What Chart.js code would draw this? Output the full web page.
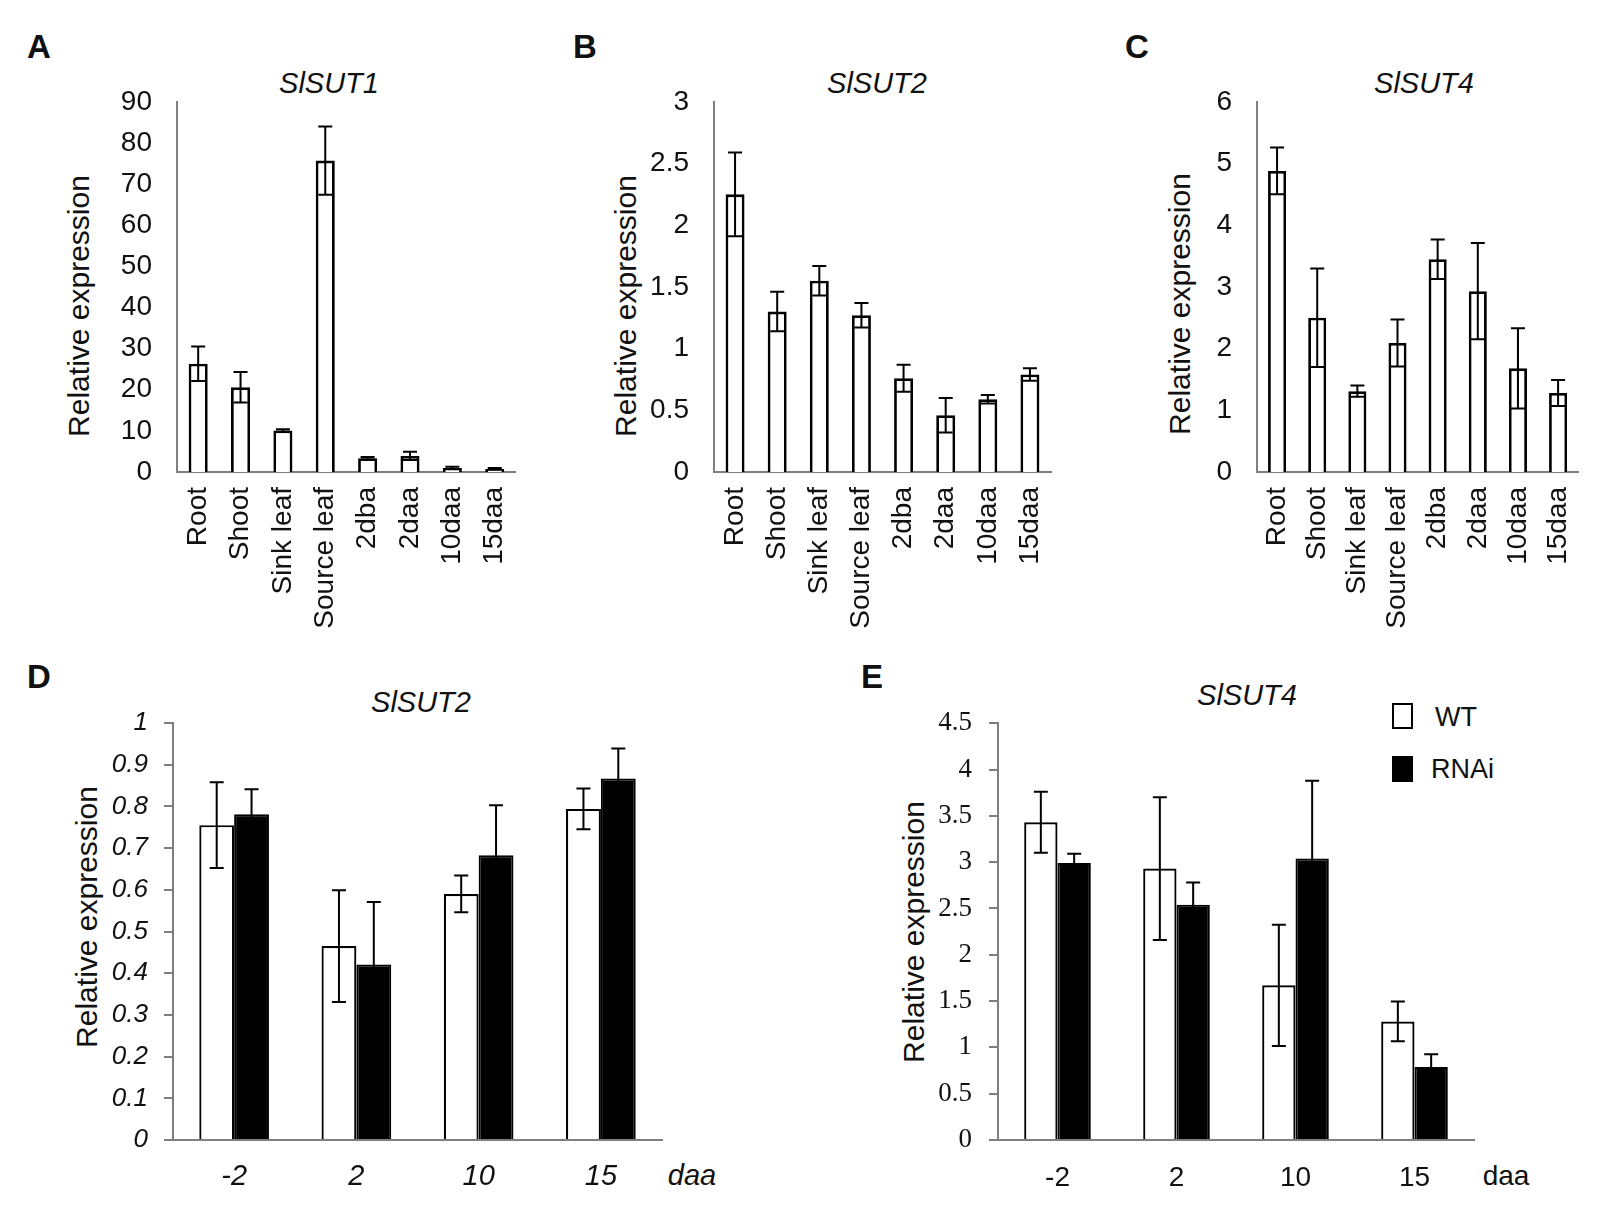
<!DOCTYPE html>
<html>
<head>
<meta charset="utf-8">
<script src="https://cdn.jsdelivr.net/npm/chart.js@4.4.1/dist/chart.umd.min.js"></script>
<style>
  body { margin: 0; background: #fff; width: 1608px; height: 1208px; position: relative; overflow: hidden;
         font-family: "Liberation Sans", Arial, sans-serif; color: #111; }
  canvas { position: absolute; }
  .t { position: absolute; white-space: nowrap; transform: translate(-50%, -50%); line-height: 1; }
  .letter { font-weight: bold; font-size: 33px; }
  .title { font-style: italic; font-size: 29px; }
  .ytitle { font-size: 30px; transform: translate(-50%, -50%) rotate(-90deg); }
  .daa { font-size: 29px; }
  .box { position: absolute; width: 17px; height: 22px; border: 2px solid #000; box-sizing: content-box; }
  .leg { position: absolute; font-size: 27px; transform: translateY(-50%); white-space: nowrap; line-height: 1; }
</style>
</head>
<body>

<div class="t letter" style="left:39px;top:46px">A</div>
<div class="t letter" style="left:585px;top:46px">B</div>
<div class="t letter" style="left:1137px;top:46px">C</div>
<div class="t letter" style="left:39px;top:676px">D</div>
<div class="t letter" style="left:872px;top:676px">E</div>

<div class="t title" style="left:329px;top:83px">SlSUT1</div>
<div class="t title" style="left:877px;top:83px">SlSUT2</div>
<div class="t title" style="left:1424px;top:83px">SlSUT4</div>
<div class="t title" style="left:421px;top:702px">SlSUT2</div>
<div class="t title" style="left:1247px;top:695px">SlSUT4</div>

<div class="t ytitle" style="left:79px;top:306px">Relative expression</div>
<div class="t ytitle" style="left:626px;top:306px">Relative expression</div>
<div class="t ytitle" style="left:1180px;top:304px">Relative expression</div>
<div class="t ytitle" style="left:87px;top:917px">Relative expression</div>
<div class="t ytitle" style="left:914px;top:932px">Relative expression</div>

<div class="t daa" style="left:692px;top:1175px;font-style:italic">daa</div>
<div class="t daa" style="left:1506px;top:1176px;font-size:28px">daa</div>

<div class="box" style="left:1392px;top:703px;background:#fff"></div>
<div class="box" style="left:1392px;top:756px;background:#000"></div>
<div class="leg" style="left:1435px;top:717px">WT</div>
<div class="leg" style="left:1431px;top:769px">RNAi</div>

<script>
// tissue panels A-C
const tissues = ['Root', 'Shoot', 'Sink leaf', 'Source leaf', '2dba', '2daa', '10daa', '15daa'];
const sut1Mean = [26.3, 20.6, 10.1, 75.7, 3.35, 3.9, 0.95, 0.75];
const sut1Err  = [4.2, 3.7, 0.3, 8.3, 0.3, 1.0, 0.3, 0.2];
const sut2Mean = [2.25, 1.30, 1.55, 1.27, 0.76, 0.46, 0.59, 0.79];
const sut2Err  = [0.34, 0.16, 0.12, 0.10, 0.11, 0.14, 0.035, 0.05];
const sut4Mean = [4.88, 2.50, 1.31, 2.09, 3.45, 2.93, 1.68, 1.28];
const sut4Err  = [0.38, 0.80, 0.09, 0.38, 0.32, 0.78, 0.65, 0.21];

// fruit time course panels D-E
const days = ['-2', '2', '10', '15'];
const dWT      = [0.755, 0.465, 0.590, 0.794];
const dWTErr   = [0.103, 0.134, 0.044, 0.049];
const dRNAi    = [0.781, 0.421, 0.683, 0.867];
const dRNAiErr = [0.060, 0.150, 0.120, 0.072];
const eWT      = [3.43, 2.93, 1.67, 1.28];
const eWTErr   = [0.33, 0.77, 0.655, 0.215];
const eRNAi    = [2.99, 2.54, 3.04, 0.787];
const eRNAiErr = [0.10, 0.24, 0.84, 0.14];

// y tick labels
const ticksA = ['0', '10', '20', '30', '40', '50', '60', '70', '80', '90'];
const ticksB = ['0', '0.5', '1', '1.5', '2', '2.5', '3'];
const ticksC = ['0', '1', '2', '3', '4', '5', '6'];
const ticksD = ['0', '0.1', '0.2', '0.3', '0.4', '0.5', '0.6', '0.7', '0.8', '0.9', '1'];
const ticksE = ['0', '0.5', '1', '1.5', '2', '2.5', '3', '3.5', '4', '4.5'];

const AXIS = '#7f7f7f';

// error bars drawn from each dataset's "errors" list
const errorBars = {
  id: 'errorBars',
  afterDatasetsDraw(chart) {
    const ctx = chart.ctx, y = chart.scales.y;
    ctx.save();
    ctx.strokeStyle = '#000';
    ctx.lineWidth = 2;
    chart.data.datasets.forEach((ds, i) => {
      chart.getDatasetMeta(i).data.forEach((bar, j) => {
        const v = ds.data[j], e = ds.errors[j];
        const top = y.getPixelForValue(v + e), bot = y.getPixelForValue(v - e);
        const cap = 7;
        ctx.beginPath();
        ctx.moveTo(bar.x, top); ctx.lineTo(bar.x, bot);
        ctx.moveTo(bar.x - cap, top); ctx.lineTo(bar.x + cap, top);
        ctx.moveTo(bar.x - cap, bot); ctx.lineTo(bar.x + cap, bot);
        ctx.stroke();
      });
    });
    ctx.restore();
  }
};

function makePanel(p) {
  const b = p.box, a = p.area;
  const c = document.createElement('canvas');
  c.width = b.w; c.height = b.h;
  c.style.left = b.x + 'px'; c.style.top = b.y + 'px';
  c.style.width = b.w + 'px'; c.style.height = b.h + 'px';
  document.body.appendChild(c);

  const yGrid = p.yTicks
    ? { display: true, drawOnChartArea: false, drawTicks: true, tickLength: 9, color: AXIS, lineWidth: 2 }
    : { display: false, drawTicks: false };

  return new Chart(c, {
    type: 'bar',
    data: { labels: p.labels, datasets: p.datasets },
    options: {
      responsive: false,
      animation: false,
      devicePixelRatio: 1,
      layout: { padding: { left: 0, bottom: 0, top: a.t - b.y, right: b.x + b.w - a.r } },
      plugins: { legend: { display: false }, tooltip: { enabled: false } },
      datasets: { bar: { categoryPercentage: p.catPct, barPercentage: p.barPct } },
      scales: {
        x: {
          grid: { display: false, drawTicks: false },
          border: { display: true, color: AXIS, width: 2 },
          ticks: {
            color: '#111', autoSkip: false,
            minRotation: p.rot, maxRotation: p.rot,
            padding: p.xPad, font: p.xFont
          },
          afterFit: s => { s.height = b.y + b.h - a.b; }
        },
        y: {
          min: 0,
          max: +p.ticks[p.ticks.length - 1],
          grid: yGrid,
          border: { display: true, color: AXIS, width: 2 },
          ticks: {
            color: '#111', padding: p.yPad, font: p.yFont,
            callback: (v, i) => p.ticks[i]
          },
          afterBuildTicks: s => { s.ticks = p.ticks.map(t => ({ value: +t })); },
          afterFit: s => { s.width = a.l - b.x; }
        }
      }
    },
    plugins: [errorBars]
  });
}

const sans = size => ({ family: 'Liberation Sans', size: size });
const single = (data, errors) => [{
  data: data, errors: errors,
  backgroundColor: '#fff', borderColor: '#000', borderWidth: 2.8
}];
const paired = (wt, wtErr, rnai, rnaiErr) => [
  { label: 'WT', data: wt, errors: wtErr, backgroundColor: '#fff', borderColor: '#000', borderWidth: 2.2 },
  { label: 'RNAi', data: rnai, errors: rnaiErr, backgroundColor: '#000', borderColor: '#000', borderWidth: 2 }
];

const tissueCommon = { labels: tissues, catPct: 1, barPct: 0.45, rot: 90, xPad: 15, yPad: 25,
                       xFont: sans(28), yFont: sans(28), yTicks: false };

makePanel(Object.assign({}, tissueCommon, {
  box: { x: 0, y: 60, w: 545, h: 600 }, area: { l: 177, t: 98, r: 518, b: 472 },
  ticks: ticksA, datasets: single(sut1Mean, sut1Err)
}));
makePanel(Object.assign({}, tissueCommon, {
  box: { x: 545, y: 60, w: 540, h: 600 }, area: { l: 714, t: 98, r: 1051, b: 472 },
  ticks: ticksB, datasets: single(sut2Mean, sut2Err)
}));
makePanel(Object.assign({}, tissueCommon, {
  box: { x: 1085, y: 60, w: 523, h: 600 }, area: { l: 1257, t: 98, r: 1587, b: 472 },
  ticks: ticksC, datasets: single(sut4Mean, sut4Err)
}));

makePanel({
  box: { x: 0, y: 690, w: 760, h: 518 }, area: { l: 173, t: 723, r: 662, b: 1140 },
  labels: days, ticks: ticksD, datasets: paired(dWT, dWTErr, dRNAi, dRNAiErr),
  catPct: 0.57, barPct: 1, rot: 0, xPad: 20, yPad: 16, yTicks: true,
  xFont: { family: 'Liberation Sans', size: 29, style: 'italic' },
  yFont: { family: 'Liberation Sans', size: 26, style: 'italic' }
});
makePanel({
  box: { x: 860, y: 690, w: 748, h: 518 }, area: { l: 998, t: 703, r: 1474, b: 1140 },
  labels: days, ticks: ticksE, datasets: paired(eWT, eWTErr, eRNAi, eRNAiErr),
  catPct: 0.56, barPct: 1, rot: 0, xPad: 21, yPad: 17, yTicks: true,
  xFont: sans(28),
  yFont: { family: 'Liberation Serif', size: 27 }
});
</script>
</body>
</html>
